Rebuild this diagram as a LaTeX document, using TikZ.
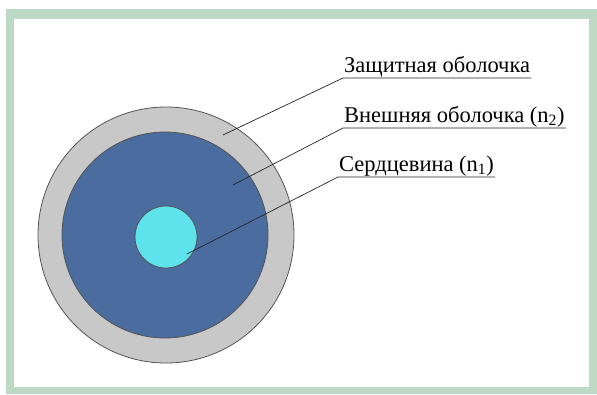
\documentclass[tikz,border=0pt]{standalone}
\usepackage{fontspec}
\setmainfont{Liberation Serif}
\usetikzlibrary{positioning}
\definecolor{framegreen}{HTML}{BDD9C5}
\definecolor{jacketgray}{HTML}{C8C8C8}
\definecolor{cladblue}{HTML}{4A6C9E}
\definecolor{corecyan}{HTML}{5EE2EC}
\definecolor{rimgray}{HTML}{555555}
\tikzstyle{layer} = [circle, draw=rimgray, line width=0.8pt, inner sep=0pt]
\tikzstyle{tag} = [anchor=south west, inner sep=1pt, font=\fontsize{22.5}{26}\selectfont]
\tikzstyle{line} = [draw=black!85, line width=0.7pt]

\begin{document}
\begin{tikzpicture}[x=1pt, y=-1pt]
			\useasboundingbox (0,0) rectangle (597,394);
			\fill [framegreen] (6,9) rectangle (597,394);
			\fill [white] (14,19) rectangle (589,387);

			\node [layer, fill=jacketgray, minimum size=256pt] (jacket) at (166,235) {};
			\node [layer, fill=cladblue, minimum size=206pt] (clad) at (165,235) {};
			\node [layer, fill=corecyan, minimum size=62pt] (core) at (166,237) {};

			\node [tag] (tjacket) at (343,78) {Защитная оболочка};
			\node [tag] (tclad) at (343,128) {Внешняя оболочка (n\textsubscript{2})};
			\node [tag] (tcore) at (338,177) {Сердцевина (n\textsubscript{1})};

			\coordinate (pjacket) at (223,135);
			\coordinate (pclad) at (233,185);
			\coordinate (pcore) at (187,254);

			\path [line] (pjacket) -- (tjacket.south west) -- (tjacket.south east);
			\path [line] (pclad) -- (tclad.south west) -- (tclad.south east);
			\path [line] (pcore) -- (tcore.south west) -- (tcore.south east);
		\end{tikzpicture}
\end{document}
